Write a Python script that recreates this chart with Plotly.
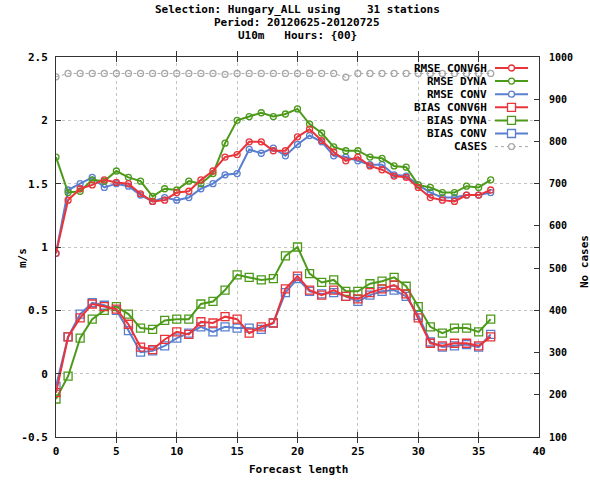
import plotly.graph_objects as go

# ---- data -------------------------------------------------------------
forecast_length = list(range(37))

rmse_conv6h = [0.95, 1.37, 1.46, 1.49, 1.53, 1.51, 1.50, 1.42, 1.36, 1.37,
               1.43, 1.44, 1.53, 1.60, 1.71, 1.73, 1.83, 1.83, 1.76, 1.76,
               1.87, 1.93, 1.84, 1.75, 1.68, 1.71, 1.64, 1.61, 1.56, 1.55,
               1.47, 1.39, 1.37, 1.36, 1.41, 1.41, 1.45]
rmse_dyna = [1.71, 1.43, 1.44, 1.53, 1.52, 1.60, 1.55, 1.52, 1.40, 1.46,
             1.45, 1.52, 1.50, 1.58, 1.82, 2.00, 2.03, 2.06, 2.03, 2.05,
             2.09, 1.97, 1.90, 1.79, 1.76, 1.76, 1.71, 1.70, 1.64, 1.63,
             1.49, 1.47, 1.43, 1.43, 1.48, 1.47, 1.53]
rmse_conv = [0.95, 1.45, 1.50, 1.55, 1.47, 1.50, 1.48, 1.41, 1.36, 1.39,
             1.37, 1.39, 1.46, 1.50, 1.57, 1.58, 1.77, 1.74, 1.78, 1.72,
             1.81, 1.88, 1.83, 1.72, 1.71, 1.68, 1.65, 1.65, 1.57, 1.56,
             1.49, 1.43, 1.39, 1.39, 1.41, 1.41, 1.43]
bias_conv6h = [-0.15, 0.29, 0.44, 0.55, 0.53, 0.51, 0.39, 0.21, 0.19, 0.27,
               0.33, 0.31, 0.41, 0.40, 0.45, 0.43, 0.32, 0.37, 0.40, 0.67,
               0.77, 0.66, 0.62, 0.66, 0.61, 0.59, 0.64, 0.67, 0.70, 0.63,
               0.44, 0.24, 0.22, 0.24, 0.24, 0.22, 0.29]
bias_dyna = [-0.20, -0.02, 0.28, 0.43, 0.50, 0.53, 0.47, 0.36, 0.35, 0.42,
             0.43, 0.43, 0.55, 0.57, 0.66, 0.78, 0.76, 0.74, 0.75, 0.93,
             1.00, 0.79, 0.72, 0.74, 0.65, 0.65, 0.71, 0.73, 0.76, 0.69,
             0.53, 0.37, 0.32, 0.36, 0.36, 0.33, 0.43]
bias_conv = [-0.10, 0.29, 0.47, 0.56, 0.54, 0.50, 0.34, 0.17, 0.18, 0.22,
             0.28, 0.32, 0.37, 0.33, 0.37, 0.36, 0.36, 0.35, 0.40, 0.64,
             0.75, 0.65, 0.63, 0.64, 0.61, 0.57, 0.62, 0.65, 0.66, 0.61,
             0.46, 0.25, 0.21, 0.22, 0.23, 0.21, 0.31]
cases = [953, 961, 961, 961, 961, 961, 961, 961, 961, 961,
         961, 961, 961, 961, 959, 961, 961, 961, 961, 961,
         961, 961, 961, 961, 952, 961, 961, 961, 961, 961,
         961, 961, 961, 961, 961, 961, 961]

x_ticks = [0, 5, 10, 15, 20, 25, 30, 35, 40]
y_ticks = [-0.5, 0, 0.5, 1, 1.5, 2, 2.5]
y2_ticks = [100, 200, 300, 400, 500, 600, 700, 800, 900, 1000]

title_lines = ["Selection: Hungary_ALL using    31 stations",
               "Period: 20120625-20120725",
               "U10m   Hours: {00}"]

# ---- styles -----------------------------------------------------------
RED = "#e8343a"
GREEN = "#4c9a1a"
BLUE = "#5a7fd0"
GREY = "#a8a8a8"
FONT = "DejaVu Sans Mono"

series = [
    ("RMSE CONV6H", rmse_conv6h, RED, "circle-open", 6, "solid", "y"),
    ("RMSE DYNA", rmse_dyna, GREEN, "circle-open", 6, "solid", "y"),
    ("RMSE CONV", rmse_conv, BLUE, "circle-open", 6, "solid", "y"),
    ("BIAS CONV6H", bias_conv6h, RED, "square-open", 8, "solid", "y"),
    ("BIAS DYNA", bias_dyna, GREEN, "square-open", 8, "solid", "y"),
    ("BIAS CONV", bias_conv, BLUE, "square-open", 8, "solid", "y"),
    ("CASES", cases, GREY, "circle-open", 6, "dot", "y2"),
]

W, H = 590, 481
L, R, T, B = 56, 539, 57, 437   # plot frame in pixels


def px(xp):
    return (xp - L) / (R - L)


def py(yp):
    return (B - yp) / (B - T)


fig = go.Figure()

# grey case counts drawn first so they sit beneath the scores
for name, vals, color, sym, size, dash, axis in reversed(series):
    fig.add_trace(go.Scatter(
        x=forecast_length, y=vals, name=name, yaxis=axis,
        mode="lines+markers",
        line=dict(color=color, width=1 if axis == "y2" else 2, dash=dash),
        marker=dict(symbol=sym, size=size, color=color,
                    line=dict(width=1.3, color=color)),
        showlegend=False,
    ))

# ---- key in the upper right, text to the left of each sample ----------
shapes = []
annotations = []
row_y = 68
for name, vals, color, sym, size, dash, axis in series:
    yy = py(row_y)
    annotations.append(dict(
        x=px(489), y=yy, xref="paper", yref="paper", text=name,
        showarrow=False, xanchor="right", yanchor="middle",
        font=dict(family=FONT, size=11, color="black", weight="bold")))
    shapes.append(dict(
        type="line", xref="paper", yref="paper",
        x0=px(495), x1=px(528), y0=yy, y1=yy,
        line=dict(color=color, width=1 if axis == "y2" else 2, dash=dash)))
    half = size / 2
    shapes.append(dict(
        type="circle" if sym.startswith("circle") else "rect",
        xref="paper", yref="paper",
        xsizemode="pixel", ysizemode="pixel",
        xanchor=px(511.5), yanchor=yy,
        x0=-half, x1=half, y0=-half, y1=half,
        fillcolor="white", line=dict(color=color, width=1.3)))
    row_y += 13.1

# ---- titles -----------------------------------------------------------
for line, ypix in zip(title_lines, [10, 22, 35]):
    annotations.append(dict(
        x=px(297), y=py(ypix), xref="paper", yref="paper", text=line,
        showarrow=False, xanchor="center", yanchor="middle",
        font=dict(family=FONT, size=11, color="black", weight="bold")))

annotations.append(dict(
    x=px(298), y=py(469), xref="paper", yref="paper",
    text="Forecast length", showarrow=False,
    xanchor="center", yanchor="middle",
    font=dict(family=FONT, size=11, color="black", weight="bold")))
annotations.append(dict(
    x=px(22), y=py(258), xref="paper", yref="paper", text="m/s",
    showarrow=False, textangle=-90, xanchor="center", yanchor="middle",
    font=dict(family=FONT, size=11, color="black", weight="bold")))
annotations.append(dict(
    x=px(584), y=py(262), xref="paper", yref="paper", text="No cases",
    showarrow=False, textangle=-90, xanchor="center", yanchor="middle",
    font=dict(family=FONT, size=11, color="black", weight="bold")))

tick_font = dict(family=FONT, size=11, color="black", weight="bold")

fig.update_layout(
    width=W, height=H,
    margin=dict(l=L, r=W - R, t=T, b=H - B, pad=0),
    paper_bgcolor="white", plot_bgcolor="white",
    showlegend=False,
    shapes=shapes, annotations=annotations,
    xaxis=dict(
        range=[0, 40], tickvals=x_ticks, ticktext=[str(v) for v in x_ticks],
        ticks="inside", ticklen=5, tickcolor="#333", mirror="allticks",
        showline=True, linecolor="#333", linewidth=1,
        showgrid=True, gridcolor="#c4c4c4", griddash="dot", gridwidth=1,
        zeroline=False, tickfont=tick_font, ticklabelstandoff=4,
    ),
    yaxis=dict(
        range=[-0.5, 2.5], tickvals=y_ticks,
        ticktext=["-0.5", "0", "0.5", "1", "1.5", "2", "2.5"],
        ticks="inside", ticklen=5, tickcolor="#333", mirror="allticks",
        showline=True, linecolor="#333", linewidth=1,
        showgrid=True, gridcolor="#c4c4c4", griddash="dot", gridwidth=1,
        zeroline=False, tickfont=tick_font, ticklabelstandoff=5,
    ),
    yaxis2=dict(
        range=[100, 1000], tickvals=y2_ticks,
        overlaying="y", side="right", anchor="x",
        ticks="inside", ticklen=5, tickcolor="#333",
        showline=False, showgrid=False, zeroline=False,
        tickfont=dict(family=FONT, size=10, color="black", weight="bold"),
        ticklabelstandoff=9,
    ),
)

fig.write_html("out.html")
